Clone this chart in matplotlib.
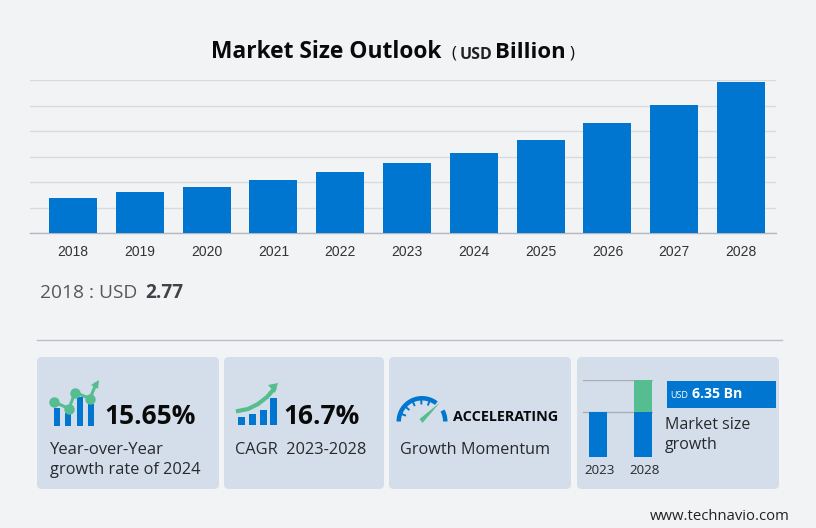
import numpy as np
import matplotlib
matplotlib.use("Agg")
import matplotlib.pyplot as plt
from matplotlib.patches import FancyBboxPatch, Rectangle, Wedge, Polygon
from matplotlib.transforms import ScaledTranslation

W, H = 816, 528
BG = "#f2f3f5"
CARD = "#d4deea"
BLUE = "#0076d1"
GREEN = "#55bd8f"
UI = "Open Sans"

years = ["2018", "2019", "2020", "2021", "2022", "2023", "2024", "2025", "2026", "2027", "2028"]
market_size = [2.77, 3.18, 3.61, 4.12, 4.75, 5.49, 6.31, 7.33, 8.59, 10.04, 11.88]

mini_years = ["2023", "2028"]
mini_base = [1.0, 1.0]
mini_growth = [0.0, 0.72]

# small icon data, in pixels of the figure
yoy_bar_x = [57, 68, 79.5, 91]
yoy_bar_top = [407.5, 412.5, 397, 404]
yoy_line_x = [54, 69, 75, 90, 96]
yoy_line_y = [402, 408.5, 392.5, 398.5, 384]
cagr_bar_x = [241.5, 252.5, 263, 273.5]
cagr_bar_top = [417, 414, 410, 398]
cagr_curve_x = [238, 248, 258, 267, 274]
cagr_curve_y = [411, 409, 404, 397, 389]

fig = plt.figure(figsize=(W / 100, H / 100), dpi=100, facecolor=BG)


def px_axes(left, top, right, bottom):
    return fig.add_axes([left / W, 1 - bottom / H, (right - left) / W, (bottom - top) / H])


# background layer, one unit is one pixel
bg = fig.add_axes([0, 0, 1, 1])
bg.set_xlim(0, W)
bg.set_ylim(H, 0)
bg.axis("off")

bg.plot([37, 782], [340, 340], color="#b9bcc9", lw=1)

for x0, x1 in [(37, 219), (224, 384), (389, 571), (577, 779)]:
    bg.add_patch(FancyBboxPatch((x0 + 4, 361), x1 - x0 - 8, 124, boxstyle="round,pad=4,rounding_size=5",
                                fc=CARD, ec="none"))

# main chart
ax = px_axes(30, 80, 776, 233)
ax.patch.set_alpha(0)
ax.bar(range(len(years)), market_size, width=0.72, color=BLUE, zorder=3)
ax.set_xlim(-0.644, 10.524)
ax.set_ylim(0, 12)
ax.set_yticks(range(0, 13, 2))
ax.set_xticks(range(len(years)))
ax.set_xticklabels(years, fontsize=10, color="#333333", family="Liberation Sans")
ax.tick_params(axis="both", length=0, labelleft=False)
ax.tick_params(axis="x", pad=9)
ax.grid(axis="y", color="#d9dadf", lw=1)
ax.set_axisbelow(True)
for s in ["top", "left", "right"]:
    ax.spines[s].set_visible(False)
ax.spines["bottom"].set_color("#b4b7bd")
ax.spines["bottom"].set_linewidth(1)

# title
bg.text(211, 52, "Market Size Outlook", fontsize=16.4, fontweight="bold", family=UI, color="#0a0a0a", va="center")
bg.text(451, 53, "(", fontsize=12, family=UI, color="#111111", va="center")
bg.text(460, 55, "USD", fontsize=11.5, fontweight="bold", family=UI, color="#222222", va="center")
bg.text(495, 52, "Billion", fontsize=15.9, fontweight="bold", family=UI, color="#0a0a0a", va="center")
bg.text(570, 53, ")", fontsize=12, family=UI, color="#111111", va="center")

bg.text(40, 293.5, "2018 : USD", fontsize=13.8, family=UI, color="#55585c", va="center")
bg.text(145, 292.5, "2.77", fontsize=13.8, fontweight="bold", family=UI, color="#3f4246", va="center")

# card 1
bg.bar(yoy_bar_x, [426 - t for t in yoy_bar_top], bottom=yoy_bar_top, width=6, color=BLUE, zorder=3)
bg.plot(yoy_line_x, yoy_line_y, color=GREEN, lw=2.2, zorder=4)
bg.plot(yoy_line_x[:4], yoy_line_y[:4], "o", color=GREEN, ms=6.5, zorder=4)
bg.add_patch(Polygon([(99, 380), (91, 385), (98, 389)], fc=GREEN, ec="none", zorder=4))
bg.text(104, 416.5, "15.65%", fontsize=19, fontweight="bold", family=UI, color="#0a0a0a", va="center")
bg.text(50, 450, "Year-over-Year", fontsize=12, family=UI, color="#26292d", va="center")
bg.text(50, 470, "growth rate of 2024", fontsize=11.8, family=UI, color="#26292d", va="center")

# card 2
bg.bar(cagr_bar_x, [425 - t for t in cagr_bar_top], bottom=cagr_bar_top, width=7, color=BLUE, zorder=3)
bg.plot(cagr_curve_x, cagr_curve_y, color=GREEN, lw=3, zorder=4)
bg.add_patch(Polygon([(278, 383), (268, 385), (275, 393)], fc=GREEN, ec="none", zorder=4))
bg.text(283, 416.5, "16.7%", fontsize=19, fontweight="bold", family=UI, color="#0a0a0a", va="center")
bg.text(235, 450, "CAGR  2023-2028", fontsize=11.8, family=UI, color="#26292d", va="center")

# card 3, gauge. y axis is flipped so the angles run the other way round
bg.add_patch(Wedge((422, 421.5), 25.5, 180, 308, width=4.5, fc=BLUE, ec="none"))
bg.add_patch(Wedge((422, 421.5), 25.5, 332, 360, width=4.5, fc=BLUE, ec="none"))
for a in np.radians([200, 222, 245, 268, 290]):
    bg.plot([422 + 22 * np.cos(a), 422 + 18 * np.cos(a)], [421.5 + 22 * np.sin(a), 421.5 + 18 * np.sin(a)],
            color=BLUE, lw=1.4)
bg.add_patch(Polygon([(440, 402.5), (419.5, 419), (422.5, 423)], fc=GREEN, ec="none"))
bg.text(453, 417, "ACCELERATING", fontsize=10.4, fontweight="bold", family=UI, color="#0a0a0a", va="center")
bg.text(400, 450, "Growth Momentum", fontsize=11.7, family=UI, color="#26292d", va="center")

# card 4, small chart
mini = px_axes(583, 380, 653, 456.7)
mini.patch.set_alpha(0)
mini.bar([0, 1], mini_base, width=0.39, color=BLUE, zorder=3)
mini.bar([0, 1], mini_growth, bottom=mini_base, width=0.39, color=GREEN, zorder=3)
mini.set_xlim(-0.333, 1.222)
mini.set_ylim(0, 1.72)
mini.set_yticks([1.0, 1.72])
mini.set_xticks([0, 1])
mini.set_xticklabels(mini_years, fontsize=9.6, family=UI, color="#26292d")
mini.tick_params(axis="both", length=0, labelleft=False)
mini.tick_params(axis="x", pad=5.5)
mini.grid(axis="y", color="#a9adb5", lw=1)
mini.set_axisbelow(True)
for s in mini.spines.values():
    s.set_visible(False)
# labels sit a little right of their bars
for lbl in mini.get_xticklabels():
    lbl.set_transform(lbl.get_transform() + ScaledTranslation(2 / 100, 0, fig.dpi_scale_trans))

bg.add_patch(Rectangle((667, 381), 109, 27, fc=BLUE, ec="none"))
bg.text(670, 396, "USD", fontsize=6.5, family=UI, color="white", va="center")
bg.text(692, 394.5, "6.35 Bn", fontsize=10.2, fontweight="bold", family=UI, color="white", va="center")
bg.text(665, 425, "Market size", fontsize=11.5, family=UI, color="#26292d", va="center")
bg.text(665, 445, "growth", fontsize=11.5, family=UI, color="#26292d", va="center")

bg.text(650, 517, "www.technavio.com", fontsize=10.7, family=UI, color="#222222", va="center")

fig.savefig("out.png", dpi=100, facecolor=BG)
